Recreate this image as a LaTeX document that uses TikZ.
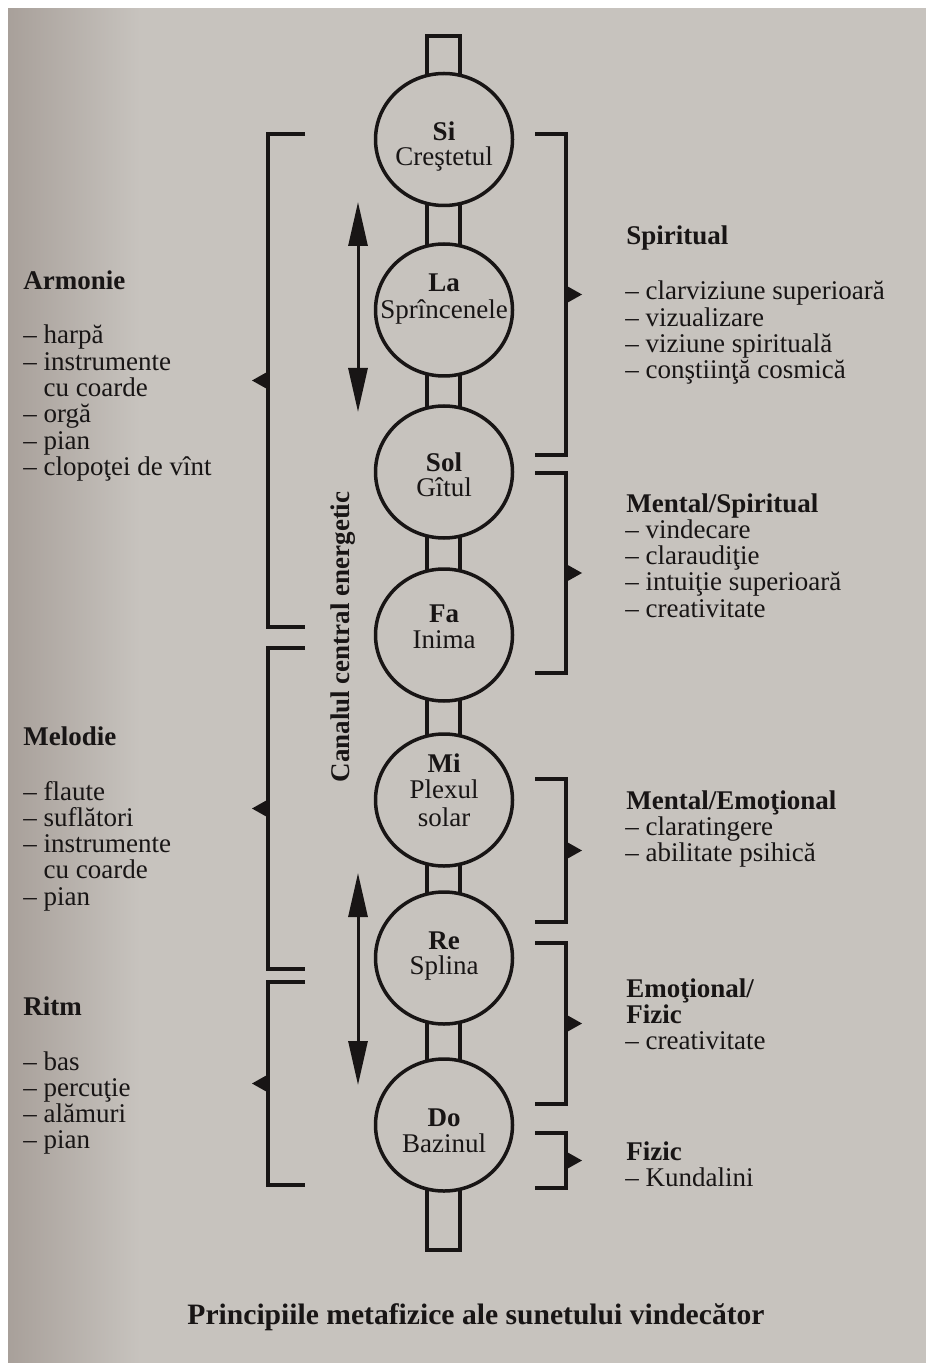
\documentclass[tikz,border=0pt]{standalone}
\usepackage{fontspec}
\setmainfont{Liberation Serif}
\usetikzlibrary{arrows.meta,calc,shapes.geometric}

\definecolor{paper}{RGB}{199,195,190}
\definecolor{shadow}{RGB}{168,160,154}
\definecolor{ink}{RGB}{24,21,21}

% bracket: #1 name, #2 free-end x, #3 spine x, #4 top y, #5 bottom y, #6 pointer direction (-1 left, 1 right)
\newcommand\groupbrace[6]{%
  \coordinate (#1-t) at (#2,#4);
  \coordinate (#1-b) at (#2,#5);
  \coordinate (#1-st) at (#3,#4);
  \coordinate (#1-sb) at (#3,#5);
  \coordinate (#1-m) at ($(#1-st)!0.5!(#1-sb)$);
  \draw[line] (#1-t) -- (#1-st) -- (#1-sb) -- (#1-b);
  \fill[ink] ($(#1-m)+(0,-9)$) -- ($(#1-m)+(#6*16,0)$) -- ($(#1-m)+(0,9)$) -- cycle;
}

\begin{document}
\begin{tikzpicture}[x=0.5pt,y=-0.5pt,
  line/.style={draw=ink, line width=1.75pt, line join=miter},
  chakra/.style={shape=ellipse, draw=ink, line width=1.75pt, fill=paper,
    minimum width=68.5pt, minimum height=66pt, inner sep=0pt},
  note/.style={font=\fontsize{13.5pt}{15pt}\selectfont\bfseries, text=ink, inner sep=0pt, anchor=base},
  organ/.style={font=\fontsize{13.5pt}{15pt}\selectfont, text=ink, inner sep=0pt, anchor=base},
  head/.style={font=\fontsize{13.5pt}{15pt}\selectfont\bfseries, text=ink, inner sep=0pt, anchor=base west},
  item/.style={font=\fontsize{13.5pt}{15pt}\selectfont, text=ink, inner sep=0pt, anchor=base west},
  flow/.style={draw=ink, line width=1.5pt,
    {Triangle[length=22pt,width=9.5pt]}-{Triangle[length=22pt,width=9.5pt]}}
]
\useasboundingbox (0,0) rectangle (926,1363);

% page
\fill[paper] (0,0) rectangle (926,1363);
\shade[left color=shadow, right color=paper] (8,8) rectangle (140,1363);
\fill[white] (0,0) rectangle (926,8);
\fill[white] (0,0) rectangle (8,1363);

% central channel
\coordinate (stemtop) at (427,36);
\coordinate (stembot) at (460,1250);
\draw[line] (stemtop) rectangle (stembot);

% chakras
\foreach \n/\y in {si/139.5, la/310, sol/472, fa/635, mi/800, re/958, do/1125}
  \node[chakra] (\n) at (444,\y) {};

\node[note]  (si-n)  at (444,141) {Si};
\node[organ] (si-o)  at (444,166) {Creştetul};
\node[note]  (la-n)  at (444,292) {La};
\node[organ] (la-o)  at (444,319) {Sprîncenele};
\node[note]  (sol-n) at (444,471) {Sol};
\node[organ] (sol-o) at (444,496) {Gîtul};
\node[note]  (fa-n)  at (444,622) {Fa};
\node[organ] (fa-o)  at (444,648) {Inima};
\node[note]  (mi-n)  at (444,772) {Mi};
\node[organ] (mi-o)  at (444,798) {Plexul};
\node[organ] (mi-p)  at (444,826) {solar};
\node[note]  (re-n)  at (444,949) {Re};
\node[organ] (re-o)  at (444,974) {Splina};
\node[note]  (do-n)  at (444,1126) {Do};
\node[organ] (do-o)  at (444,1152) {Bazinul};

% flow arrows along the channel
\coordinate (up1) at (358,202);
\coordinate (dn1) at (358,412);
\draw[flow] (up1) -- (dn1);
\coordinate (up2) at (358,873);
\coordinate (dn2) at (358,1085);
\draw[flow] (up2) -- (dn2);

\node[font=\fontsize{13.5pt}{15pt}\selectfont\bfseries, text=ink, rotate=90, inner sep=0pt]
  (canal) at (343,637) {Canalul central energetic};

% left brackets
\groupbrace{armb}{305}{268}{134}{627}{-1}
\groupbrace{melb}{305}{268}{648}{969}{-1}
\groupbrace{ritb}{305}{268}{982}{1185}{-1}

% right brackets
\groupbrace{spb}{535}{566}{134}{455}{1}
\groupbrace{msb}{535}{566}{473}{673}{1}
\groupbrace{meb}{535}{566}{779}{922}{1}
\groupbrace{efb}{535}{566}{943}{1104}{1}
\groupbrace{fzb}{535}{566}{1133}{1188}{1}

% left texts
\node[head] (arm-h) at (23,290) {Armonie};
\foreach \t [count=\i from 0] in {– harpă, – instrumente, \phantom{– }cu coarde, – orgă, – pian, – clopoţei de vînt}
  \node[item] (arm-\i) at (23,344+\i*26.3) {\t};

\node[head] (mel-h) at (23,745) {Melodie};
\foreach \t [count=\i from 0] in {– flaute, – suflători, – instrumente, \phantom{– }cu coarde, – pian}
  \node[item] (mel-\i) at (23,800+\i*26.3) {\t};

\node[head] (rit-h) at (23,1015) {Ritm};
\foreach \t [count=\i from 0] in {– bas, – percuţie, – alămuri, – pian}
  \node[item] (rit-\i) at (23,1070+\i*26.3) {\t};

% right texts
\node[head] (sp-h) at (626,245) {Spiritual};
\foreach \t [count=\i from 0] in {– clarviziune superioară, – vizualizare, – viziune spirituală, – conştiinţă cosmică}
  \node[item] (sp-\i) at (625,300+\i*26.3) {\t};

\node[head] (ms-h) at (626,512) {Mental/Spiritual};
\foreach \t [count=\i from 1] in {– vindecare, – claraudiţie, – intuiţie superioară, – creativitate}
  \node[item] (ms-\i) at (625,512+\i*26.3) {\t};

\node[head] (me-h) at (626,809) {Mental/Emoţional};
\foreach \t [count=\i from 1] in {– claratingere, – abilitate psihică}
  \node[item] (me-\i) at (625,809+\i*26.3) {\t};

\node[head] (ef-h) at (626,997) {Emoţional/};
\node[head] (ef-h2) at (626,1023.3) {Fizic};
\node[item] (ef-1) at (625,1049.6) {– creativitate};

\node[head] (fz-h) at (626,1160) {Fizic};
\node[item] (fz-1) at (625,1186.3) {– Kundalini};

% caption
\node[font=\fontsize{14.8pt}{16pt}\selectfont\bfseries, text=ink, anchor=base, inner sep=0pt]
  (caption) at (476,1324) {Principiile metafizice ale sunetului vindecător};
\end{tikzpicture}
\end{document}
